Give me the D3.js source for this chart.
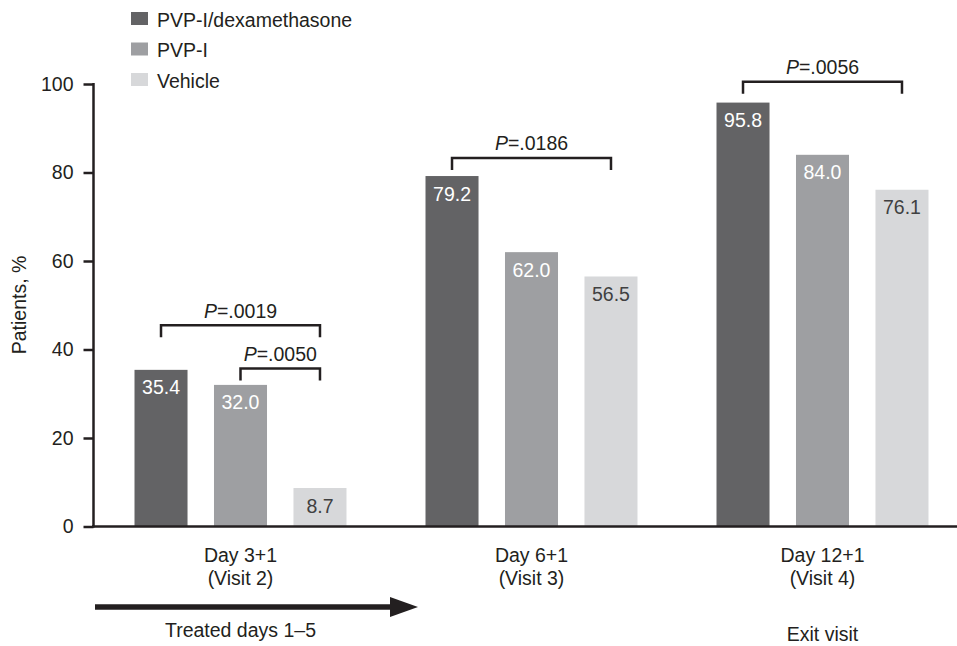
<!DOCTYPE html>
<html><head><meta charset="utf-8">
<script src="https://cdn.jsdelivr.net/npm/d3@7"></script>
<style>
body{margin:0;background:#fff;}
svg{display:block;font-family:"Liberation Sans",Arial,Helvetica,sans-serif;}
</style></head>
<body><svg id="chart" width="957" height="646"></svg>
<script>
const categories = [["Day 3+1","(Visit 2)"],["Day 6+1","(Visit 3)"],["Day 12+1","(Visit 4)"]];
const catKeys = ["d3","d6","d12"];
const series = ["PVP-I/dexamethasone","PVP-I","Vehicle"];
const dexValues = [35.4, 79.2, 95.8];
const pvpValues = [32.0, 62.0, 84.0];
const vehValues = [8.7, 56.5, 76.1];
const yTicks = [0,20,40,60,80,100];
// brackets: category index, from series, to series, bracket level (% units), label
const brackets = [
  {cat:0, from:0, to:2, level:45.5, p:".0019"},
  {cat:0, from:1, to:2, level:35.7, p:".0050"},
  {cat:1, from:0, to:2, level:83.3, p:".0186"},
  {cat:2, from:0, to:2, level:100.5, p:".0056"}
];
const bottomNotes = ["Treated days 1–5", "Exit visit"];

const colors = ["#636365","#9e9fa2","#d7d8da"];
const labelColors = ["#ffffff","#ffffff","#404041"];
const ink = "#231f20";
const FS = 19.5;

const svg = d3.select("#chart");
const x0 = d3.scaleBand().domain(catKeys).range([95, 968]).paddingInner(0).paddingOuter(0);
const x1 = d3.scaleBand().domain(series).range([0, x0.bandwidth()]).paddingInner(0.333).paddingOuter(0.497);
const y = d3.scaleLinear().domain([0,100]).range([526.5, 84]);

const valuesBySeries = [dexValues, pvpValues, vehValues];

// bars
catKeys.forEach((c, ci) => {
  const g = svg.append("g").attr("transform", `translate(${x0(c)},0)`);
  series.forEach((s, si) => {
    const v = valuesBySeries[si][ci];
    g.append("rect")
      .attr("x", x1(s)).attr("width", x1.bandwidth())
      .attr("y", y(v)).attr("height", y(0) - y(v))
      .attr("fill", colors[si]);
    g.append("text")
      .attr("x", x1(s) + x1.bandwidth()/2)
      .attr("y", y(v) + 24.5)
      .attr("text-anchor","middle")
      .attr("font-size", FS)
      .attr("fill", labelColors[si])
      .text(v.toFixed(1));
  });
});

// y axis
const yAxis = d3.axisLeft(y).tickValues(yTicks).tickSize(10).tickPadding(10).tickSizeOuter(0);
const ya = svg.append("g").attr("transform","translate(93.5,0)").call(yAxis);
ya.select(".domain").attr("stroke",ink).attr("stroke-width",2.5).attr("d", `M0,${y(100)-1}V${y(0)+1}`);
ya.selectAll(".tick line").attr("stroke",ink).attr("stroke-width",2.5);
ya.selectAll(".tick text").attr("font-size",FS).attr("fill",ink).attr("font-family","Liberation Sans, Arial, sans-serif");

// x axis
const xAxis = d3.axisBottom(x0).tickSize(0).tickFormat("");
const xa = svg.append("g").attr("transform",`translate(0,${y(0)})`).call(xAxis);
xa.select(".domain").attr("stroke",ink).attr("stroke-width",2.5).attr("d","M92,0H957");
catKeys.forEach((c, ci) => {
  const cx = x0(c) + x0.bandwidth()/2;
  categories[ci].forEach((line, li) => {
    svg.append("text").attr("x", cx).attr("y", 562 + li*23)
      .attr("text-anchor","middle").attr("font-size",FS).attr("fill",ink).text(line);
  });
});

// y label
svg.append("text").attr("transform","translate(26,305) rotate(-90)")
  .attr("text-anchor","middle").attr("font-size",FS).attr("fill",ink).text("Patients, %");

// brackets
brackets.forEach(b => {
  const c = catKeys[b.cat];
  const xa_ = x0(c) + x1(series[b.from]) + x1.bandwidth()/2;
  const xb_ = x0(c) + x1(series[b.to]) + x1.bandwidth()/2;
  const yl = y(b.level), yd = yl + 12;
  svg.append("path").attr("d", `M${xa_},${yd}V${yl}H${xb_}V${yd}`)
    .attr("fill","none").attr("stroke",ink).attr("stroke-width",2.5);
  const t = svg.append("text").attr("x", (xa_+xb_)/2).attr("y", yl - 7.5)
    .attr("text-anchor","middle").attr("font-size",FS).attr("fill",ink);
  t.append("tspan").attr("font-style","italic").text("P");
  t.append("tspan").text("=" + b.p);
});

// arrow
svg.append("line").attr("x1",95).attr("x2",392).attr("y1",607).attr("y2",607)
  .attr("stroke",ink).attr("stroke-width",5.5);
svg.append("path").attr("d","M390,597L418,607L390,617Z").attr("fill",ink);
svg.append("text").attr("x", x0(catKeys[0]) + x0.bandwidth()/2).attr("y",637)
  .attr("text-anchor","middle").attr("font-size",FS).attr("fill",ink).text(bottomNotes[0]);
svg.append("text").attr("x", x0(catKeys[2]) + x0.bandwidth()/2).attr("y",641)
  .attr("text-anchor","middle").attr("font-size",FS).attr("fill",ink).text(bottomNotes[1]);

// legend
series.forEach((s, si) => {
  const top = 12 + si*30.5;
  svg.append("rect").attr("x",131).attr("y",top).attr("width",17).attr("height",13).attr("fill",colors[si]);
  svg.append("text").attr("x",157).attr("y",top+14.5).attr("font-size",FS).attr("fill",ink).text(s);
});
</script></body></html>
